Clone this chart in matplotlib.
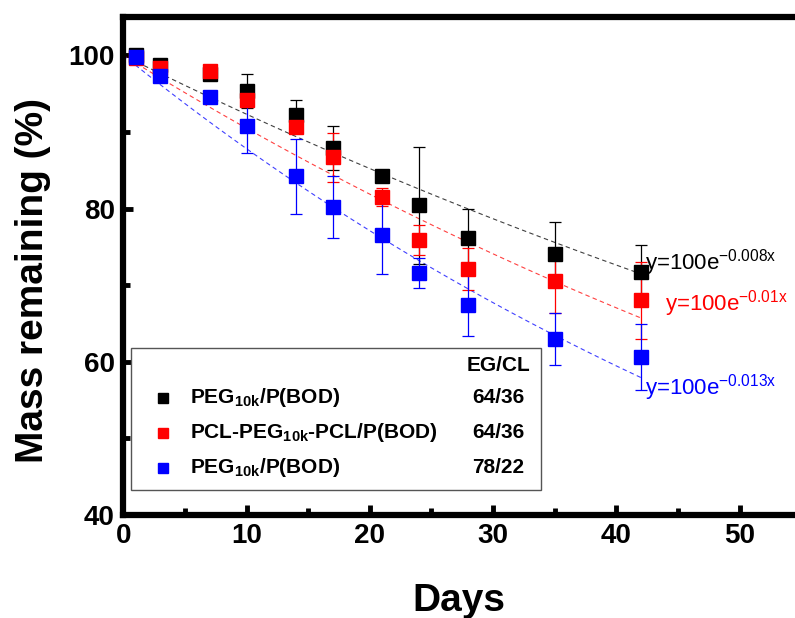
import numpy as np
import matplotlib.pyplot as plt
from matplotlib.patches import Rectangle
from matplotlib.ticker import MultipleLocator

plt.rcParams['font.family'] = ['Liberation Sans Narrow', 'Liberation Sans', 'DejaVu Sans']
plt.rcParams['mathtext.default'] = 'regular'

# -----------------------------
# data
# -----------------------------
days = [1, 3, 7, 10, 14, 17, 21, 24, 28, 35, 42]

black_y = [100.0, 98.7, 97.6, 95.3, 92.2, 87.9, 84.3, 80.4, 76.2, 74.0, 71.7]
black_err = [0.3, 0.5, 0.4, 2.2, 2.0, 2.9, 0.5, 7.6, 3.8, 4.2, 3.6]

red_y = [99.7, 98.4, 98.0, 94.2, 90.6, 86.7, 81.5, 75.9, 72.1, 70.5, 68.0]
red_err = [0.3, 0.3, 0.4, 0.8, 0.8, 3.2, 1.2, 2.0, 2.7, 4.2, 5.0]

blue_y = [99.8, 97.3, 94.5, 90.8, 84.2, 80.2, 76.6, 71.6, 67.4, 63.0, 60.6]
blue_err = [0.3, 0.4, 0.4, 3.6, 4.9, 4.0, 5.2, 2.0, 4.0, 3.4, 4.3]

rates = [0.008, 0.01, 0.013]
fit_labels = [r"y=100e$^{-0.008x}$", r"y=100e$^{-0.01x}$", r"y=100e$^{-0.013x}$"]
fit_label_pos = [(42.3, 72.9), (43.9, 67.6), (42.3, 56.6)]

names = ["PEG$_{10k}$/P(BOD)", "PCL-PEG$_{10k}$-PCL/P(BOD)", "PEG$_{10k}$/P(BOD)"]
ratios = ["64/36", "64/36", "78/22"]
colors = ["black", "#ff0000", "#0000ff"]

# -----------------------------
# figure
# -----------------------------
fig = plt.figure(figsize=(7.95, 6.18), dpi=100)
ax = fig.add_axes([0.155, 0.1667, 0.8453, 0.8058])

series = [(black_y, black_err), (red_y, red_err), (blue_y, blue_err)]
x_fit = np.linspace(0, 42, 100)

for (yv, ye), k, c, lab, pos in zip(series, rates, colors, fit_labels, fit_label_pos):
    ax.plot(x_fit, 100 * np.exp(-k * x_fit), ls=(0, (4, 3)), lw=0.8, color=c, alpha=0.75)
    ax.errorbar(days, yv, yerr=ye, fmt="s", color=c, ms=9.5, elinewidth=0.9,
                ecolor=c, capsize=4, capthick=0.9, alpha=1, zorder=3)
    ax.text(pos[0], pos[1], lab, color=c, fontsize=16, family="Liberation Sans",
            va="center", ha="left")

ax.set_xlim(0, 54.5)
ax.set_ylim(40, 105)
ax.xaxis.set_major_locator(MultipleLocator(10))
ax.xaxis.set_minor_locator(MultipleLocator(5))
ax.yaxis.set_major_locator(MultipleLocator(20))
ax.yaxis.set_minor_locator(MultipleLocator(10))

for side in ["left", "bottom", "top"]:
    ax.spines[side].set_linewidth(4.5)
ax.spines["right"].set_visible(False)

ax.tick_params(which="both", direction="in", width=3.5, top=False, right=False)
ax.tick_params(which="major", length=7, labelsize=20, pad=6)
ax.tick_params(which="minor", length=5)
for lbl in ax.get_xticklabels() + ax.get_yticklabels():
    lbl.set_fontweight("bold")

ax.set_xlabel("Days", fontsize=28, fontweight="bold", family="Liberation Sans", labelpad=24)
ax.set_ylabel("Mass remaining (%)", fontsize=28, fontweight="bold", family="Liberation Sans")
ax.yaxis.set_label_coords(-0.108, 0.47)

# -----------------------------
# legend box (drawn by hand)
# -----------------------------
box = Rectangle((0.011, 0.05), 0.61, 0.285, transform=ax.transAxes,
                fill=True, facecolor="white", edgecolor="#555555", lw=1, zorder=5)
ax.add_patch(box)
ax.text(0.558, 0.3, "EG/CL", transform=ax.transAxes, fontsize=15, fontweight="bold",
        family="Liberation Sans", ha="center", va="center", zorder=6)
for i, (nm, rt, c) in enumerate(zip(names, ratios, colors)):
    yy = 0.235 - i * 0.07
    ax.plot([0.059], [yy], "s", color=c, ms=7, transform=ax.transAxes, zorder=6, clip_on=False)
    ax.text(0.1, yy, nm, transform=ax.transAxes, fontsize=15, fontweight="bold",
            family="Liberation Sans", ha="left", va="center", zorder=6)
    ax.text(0.558, yy, rt, transform=ax.transAxes, fontsize=15, fontweight="bold",
            family="Liberation Sans", ha="center", va="center", zorder=6)

fig.savefig("out.png", dpi=100)
